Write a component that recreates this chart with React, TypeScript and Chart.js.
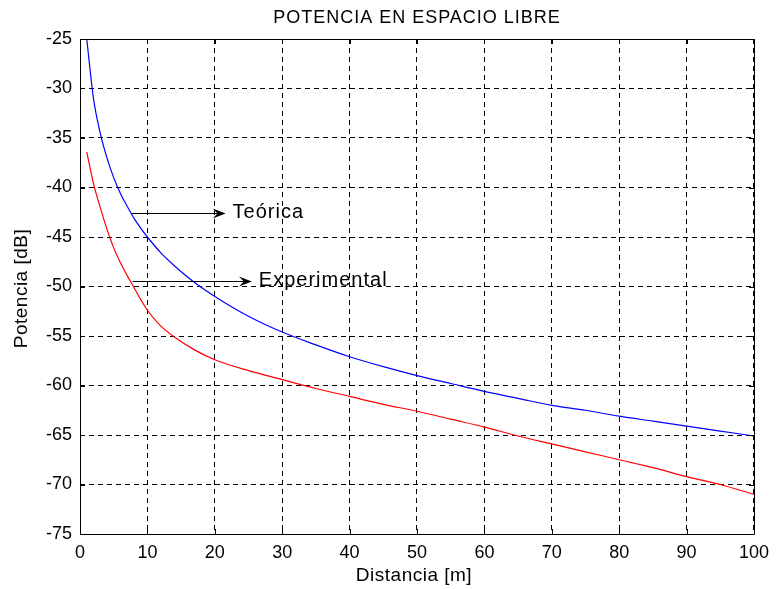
import React, { useEffect, useRef } from "react";
import { Chart, registerables } from "chart.js";

Chart.register(...registerables);

const distances = [1, 2, 3, 4, 5, 6, 7, 8, 9, 10, 12, 14, 17, 20, 25, 30, 35, 40, 45, 50, 55, 60, 65, 70, 75, 80, 85, 90, 95, 100];
const teorica = [-25, -31, -34.5, -37, -39, -40.6, -41.9, -43.1, -44.1, -45, -46.6, -47.9, -49.6, -51, -53, -54.6, -55.9, -57.1, -58.1, -59, -59.8, -60.6, -61.3, -62, -62.5, -63.1, -63.6, -64.1, -64.6, -65.1];
const experimental = [-36.4, -39.6, -42.0, -44.2, -46.1, -47.6, -48.9, -50.1, -51.3, -52.4, -54, -55.1, -56.4, -57.4, -58.5, -59.4, -60.3, -61.1, -61.9, -62.6, -63.4, -64.2, -65.1, -65.9, -66.7, -67.5, -68.3, -69.2, -70, -71];

const arrowLabels = ["Teórica", "Experimental"];
const arrowStartX = [7.7, 7.8];
const arrowEndX = [21.6, 25.5];
const arrowY = [-42.6, -49.4];

const titleText = "POTENCIA EN ESPACIO LIBRE";
const xTitle = "Distancia [m]";
const yTitle = "Potencia [dB]";

const FONT = "'Liberation Sans', Arial, Helvetica, sans-serif";

const decorPlugin = {
  id: "matlabDecor",
  afterDraw(chart: any) {
    const ctx = chart.ctx as CanvasRenderingContext2D;
    const { left, right, top, bottom } = chart.chartArea;
    const xs = chart.scales.x;
    const ys = chart.scales.y;
    ctx.save();
    // box
    ctx.strokeStyle = "#000";
    ctx.lineWidth = 1;
    ctx.setLineDash([]);
    ctx.beginPath();
    ctx.rect(Math.round(left) + 0.5, Math.round(top) + 0.5, Math.round(right - left), Math.round(bottom - top));
    ctx.stroke();
    // inward ticks
    const tl = 5;
    ctx.beginPath();
    xs.ticks.forEach((t: any) => {
      const px = Math.round(xs.getPixelForValue(t.value)) + 0.5;
      ctx.moveTo(px, bottom);
      ctx.lineTo(px, bottom - tl);
      ctx.moveTo(px, top);
      ctx.lineTo(px, top + tl);
    });
    ys.ticks.forEach((t: any) => {
      const py = Math.round(ys.getPixelForValue(t.value)) + 0.5;
      ctx.moveTo(left, py);
      ctx.lineTo(left + tl, py);
      ctx.moveTo(right, py);
      ctx.lineTo(right - tl, py);
    });
    ctx.stroke();

    // arrows + labels
    ctx.fillStyle = "#000";
    for (let i = 0; i < arrowLabels.length; i++) {
      const x0 = xs.getPixelForValue(arrowStartX[i]);
      const x1 = xs.getPixelForValue(arrowEndX[i]);
      const y = Math.round(ys.getPixelForValue(arrowY[i])) + 0.5;
      ctx.beginPath();
      ctx.moveTo(x0, y);
      ctx.lineTo(x1 - 6, y);
      ctx.stroke();
      ctx.beginPath();
      ctx.moveTo(x1, y);
      ctx.lineTo(x1 - 13, y - 5);
      ctx.lineTo(x1 - 8, y);
      ctx.lineTo(x1 - 13, y + 5);
      ctx.closePath();
      ctx.fill();
      ctx.font = `20px ${FONT}`;
      (ctx as any).letterSpacing = "1px";
      ctx.textAlign = "left";
      ctx.textBaseline = "middle";
      ctx.fillText(arrowLabels[i], x1 + 7, y - 1.5);
    }

    // title
    ctx.font = `18px ${FONT}`;
    (ctx as any).letterSpacing = "1px";
    ctx.textAlign = "center";
    ctx.textBaseline = "middle";
    ctx.fillText(titleText, (left + right) / 2, 18);

    // axis titles
    ctx.font = `19px ${FONT}`;
    (ctx as any).letterSpacing = "0.5px";
    ctx.fillText(xTitle, (left + right) / 2 - 3, 576);
    ctx.save();
    ctx.translate(22, (top + bottom) / 2 + 2);
    ctx.rotate(-Math.PI / 2);
    ctx.fillText(yTitle, 0, 0);
    ctx.restore();
    ctx.restore();
  },
};

export default function App() {
  const ref = useRef<HTMLCanvasElement | null>(null);
  useEffect(() => {
    document.body.style.margin = "0";
    const canvas = ref.current!;
    const chart = new Chart(canvas, {
      type: "line",
      data: {
        datasets: [
          {
            label: "Teórica",
            data: distances.map((d, i) => ({ x: d, y: teorica[i] })),
            borderColor: "#0000ff",
            borderWidth: 1.2,
            pointRadius: 0,
            cubicInterpolationMode: "monotone",
            fill: false,
          },
          {
            label: "Experimental",
            data: distances.map((d, i) => ({ x: d, y: experimental[i] })),
            borderColor: "#ff0000",
            borderWidth: 1.2,
            pointRadius: 0,
            cubicInterpolationMode: "monotone",
            fill: false,
          },
        ],
      },
      options: {
        responsive: false,
        animation: false,
        devicePixelRatio: 1,
        layout: { padding: { top: 39, right: 21, left: 0, bottom: 0 } },
        plugins: {
          legend: { display: false },
          title: { display: false },
          tooltip: { enabled: false },
        },
        scales: {
          x: {
            type: "linear",
            min: 0,
            max: 100,
            ticks: { stepSize: 10, color: "#000", padding: 8, font: { family: FONT, size: 18 }, maxRotation: 0 },
            grid: { color: "#000", lineWidth: 1, drawTicks: false },
            border: { display: false, dash: [5, 4] },
            afterFit: (s: any) => {
              s.height = 55;
            },
          },
          y: {
            type: "linear",
            min: -75,
            max: -25,
            ticks: { stepSize: 5, color: "#000", padding: 8, font: { family: FONT, size: 18 } },
            grid: { color: "#000", lineWidth: 1, drawTicks: false },
            border: { display: false, dash: [5, 4] },
            afterFit: (s: any) => {
              s.width = 80;
            },
          },
        },
      },
      plugins: [decorPlugin],
    });
    return () => chart.destroy();
  }, []);
  return (
    <div style={{ width: 777, height: 589, background: "#fff" }}>
      <canvas ref={ref} width={777} height={589} style={{ display: "block" }} />
    </div>
  );
}
